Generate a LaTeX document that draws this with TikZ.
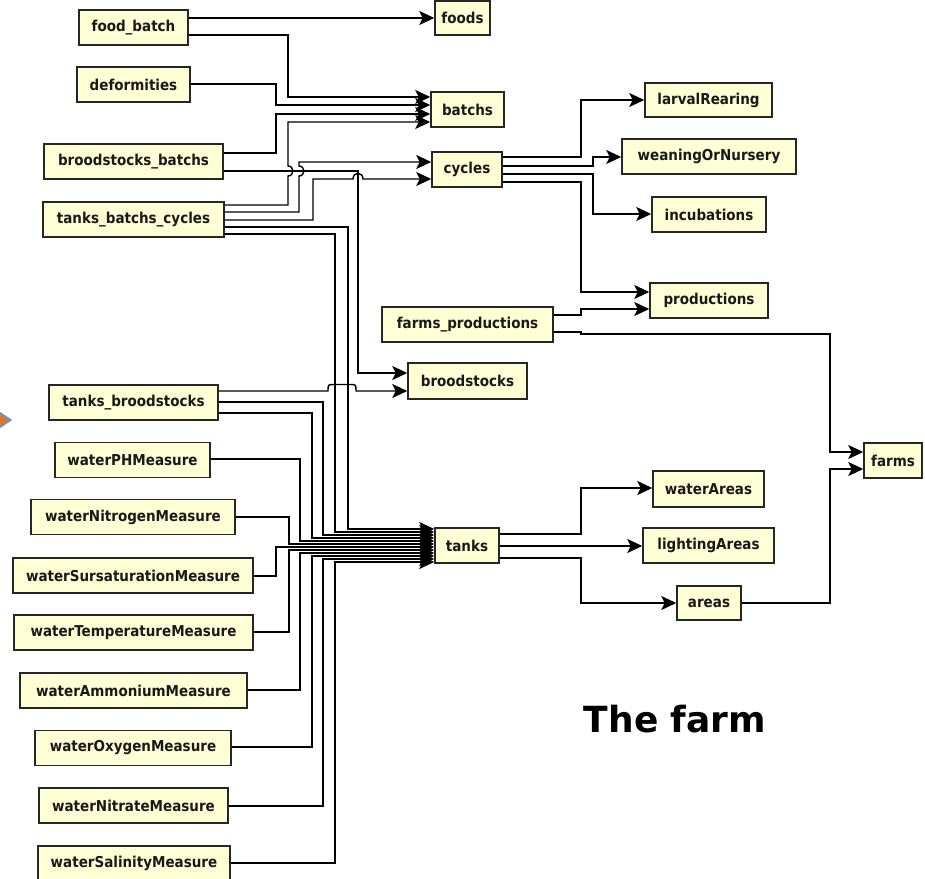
\documentclass[tikz,border=0pt]{standalone}
\usepackage{fontspec}
\setmainfont{DejaVu Sans}
\newfontfamily\boxfont{DejaVu Sans Condensed}
\usetikzlibrary{arrows.meta}
\definecolor{boxfill}{RGB}{255,255,214}
\definecolor{chevorange}{RGB}{240,110,30}
\definecolor{chevgrey}{RGB}{125,145,165}
\begin{document}
\begin{tikzpicture}[x=1pt,y=-1pt,
  box/.style={draw=black!85, fill=boxfill, line width=1.5pt, inner sep=0pt,
    minimum height=35pt, font=\boxfont\bfseries\fontsize{15}{18}\selectfont, text=black!90},
  conn/.style={line width=1.4pt, draw=black,
    -{Stealth[length=15pt,width=14pt,inset=3.5pt]}},
  title/.style={font=\fontsize{36}{40}\selectfont\bfseries, text=black}]
\useasboundingbox (0,0) rectangle (925,878);

% chevron bullet at left edge
\fill[chevorange] (-14,405) -- (9,420) -- (-14,435) -- cycle;
\draw[chevgrey, line width=2.5pt] (-14,404) -- (10,420) -- (-14,436);

% left column
\node[box, minimum width=109pt] (fb) at (133.5,27.5) {food\_batch};
\node[box, minimum width=113pt] (def) at (133.5,84.5) {deformities};
\node[box, minimum width=179pt] (bb) at (133.5,161.5) {broodstocks\_batchs};
\node[box, minimum width=181pt] (tbc) at (133.5,219.5) {tanks\_batchs\_cycles};
\node[box, minimum width=169pt] (tb) at (133.5,402.5) {tanks\_broodstocks};
\node[box, minimum width=155pt] (ph) at (132.5,460) {waterPHMeasure};
\node[box, minimum width=204pt] (nit) at (133,517) {waterNitrogenMeasure};
\node[box, minimum width=240pt] (sur) at (133,575.5) {waterSursaturationMeasure};
\node[box, minimum width=239pt] (temp) at (133.5,632.5) {waterTemperatureMeasure};
\node[box, minimum width=227pt] (amm) at (133.5,690.5) {waterAmmoniumMeasure};
\node[box, minimum width=196pt] (oxy) at (133,748) {waterOxygenMeasure};
\node[box, minimum width=189pt] (nitr) at (133.5,805.5) {waterNitrateMeasure};
\node[box, minimum width=192pt] (sal) at (134,863.5) {waterSalinityMeasure};

% middle column
\node[box, minimum width=55pt, minimum height=34pt] (foods) at (462.5,18) {foods};
\node[box, minimum width=73pt] (batchs) at (467.5,109.5) {batchs};
\node[box, minimum width=70pt] (cycles) at (467,169.5) {cycles};
\node[box, minimum width=171pt] (fp) at (467.5,324.5) {farms\_productions};
\node[box, minimum width=119pt, minimum height=36pt] (brood) at (467.5,381) {broodstocks};
\node[box, minimum width=64pt] (tanks) at (467,545.5) {tanks};

% right column
\node[box, minimum width=127pt, minimum height=34pt] (larval) at (708.5,100) {larvalRearing};
\node[box, minimum width=174pt] (wean) at (709,156.5) {weaningOrNursery};
\node[box, minimum width=114pt] (incub) at (709,214.5) {incubations};
\node[box, minimum width=118pt] (prod) at (709,300.5) {productions};
\node[box, minimum width=111pt, minimum height=36pt] (wa) at (708.5,489) {waterAreas};
\node[box, minimum width=131pt] (la) at (708.5,545.5) {lightingAreas};
\node[box, minimum width=64pt, minimum height=34pt] (areas) at (709,603) {areas};
\node[box, minimum width=58pt] (farms) at (893,460.5) {farms};

\node[title] (ttl) at (675,719) {The farm};

% connectors to foods / batchs
\draw[conn] (fb.east |- 0,18) -- (foods.west |- 0,18);
\draw[conn] (fb.east |- 0,35) -- (288,35) -- (288,97) -- (batchs.west |- 0,97);
\draw[conn] (def.east |- 0,84) -- (276,84) -- (276,105) -- (batchs.west |- 0,105);
\draw[conn] (bb.east |- 0,153) -- (276,153) -- (276,114) -- (batchs.west |- 0,114);
\draw[conn] (tbc.east |- 0,205) -- (288,205) -- (288,176)
   .. controls (294.5,176) and (294.5,166) .. (288,166) -- (288,122) -- (batchs.west |- 0,122);

% to cycles
\draw[conn] (tbc.east |- 0,212) -- (299,212) -- (299,176)
   .. controls (305.5,176) and (305.5,166) .. (299,166) -- (299,162) -- (cycles.west |- 0,162);
\draw[conn] (tbc.east |- 0,220) -- (313,220) -- (313,179) -- (353,179)
   .. controls (353,171.5) and (363,171.5) .. (363,179) -- (cycles.west |- 0,179);

% to broodstocks
\draw[conn] (bb.east |- 0,171) -- (358,171) -- (358,373) -- (brood.west |- 0,373);
\draw[conn] (tb.east |- 0,391) -- (328,391) .. controls (328,384.5) .. (334,384.5)
   -- (350,384.5) .. controls (356,384.5) .. (356,391) -- (brood.west |- 0,391);

% fan-in to tanks
\draw[conn] (tbc.east |- 0,227) -- (348,227) -- (348,529) -- (tanks.west |- 0,529);
\draw[conn] (tbc.east |- 0,234) -- (335,234) -- (335,532) -- (tanks.west |- 0,532);
\draw[conn] (tb.east |- 0,402) -- (323,402) -- (323,535) -- (tanks.west |- 0,535);
\draw[conn] (tb.east |- 0,413) -- (312,413) -- (312,538) -- (tanks.west |- 0,538);
\draw[conn] (ph.east |- 0,459) -- (300,459) -- (300,541) -- (tanks.west |- 0,541);
\draw[conn] (nit.east |- 0,517) -- (289,517) -- (289,544) -- (tanks.west |- 0,544);
\draw[conn] (sur.east |- 0,576) -- (276,576) -- (276,547) -- (tanks.west |- 0,547);
\draw[conn] (temp.east |- 0,632) -- (289,632) -- (289,550) -- (tanks.west |- 0,550);
\draw[conn] (amm.east |- 0,690) -- (300,690) -- (300,553) -- (tanks.west |- 0,553);
\draw[conn] (oxy.east |- 0,747) -- (312,747) -- (312,556) -- (tanks.west |- 0,556);
\draw[conn] (nitr.east |- 0,806) -- (323,806) -- (323,559) -- (tanks.west |- 0,559);
\draw[conn] (sal.east |- 0,863) -- (335,863) -- (335,562) -- (tanks.west |- 0,562);

% cycles outputs
\draw[conn] (cycles.east |- 0,157) -- (581,157) -- (581,100) -- (larval.west |- 0,100);
\draw[conn] (cycles.east |- 0,166) -- (593,166) -- (593,157) -- (wean.west |- 0,157);
\draw[conn] (cycles.east |- 0,174) -- (593,174) -- (593,214) -- (incub.west |- 0,214);
\draw[conn] (cycles.east |- 0,182) -- (581,182) -- (581,292) -- (prod.west |- 0,292);

% farms_productions outputs
\draw[conn] (fp.east |- 0,315) -- (581,315) -- (581,309) -- (prod.west |- 0,309);
\draw[conn] (fp.east |- 0,332) -- (581,332) -- (581,334) -- (830,334) -- (830,452) -- (farms.west |- 0,452);

% tanks outputs
\draw[conn] (tanks.east |- 0,534) -- (581,534) -- (581,488) -- (wa.west |- 0,488);
\draw[conn] (tanks.east |- 0,546) -- (la.west |- 0,546);
\draw[conn] (tanks.east |- 0,558) -- (581,558) -- (581,603) -- (areas.west |- 0,603);
\draw[conn] (areas.east |- 0,603) -- (830,603) -- (830,469) -- (farms.west |- 0,469);
\end{tikzpicture}
\end{document}
